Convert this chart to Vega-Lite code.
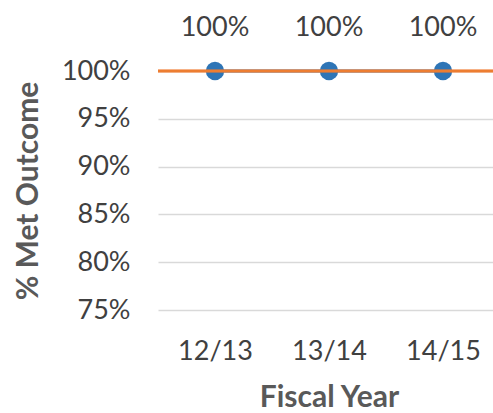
{
  "$schema": "https://vega.github.io/schema/vega-lite/v6.json",
  "autosize": "none",
  "width": 342,
  "height": 239,
  "padding": {"left": 158, "top": 71, "right": 0, "bottom": 103},
  "background": "white",
  "config": {
    "view": {"stroke": null},
    "font": "Lato"
  },
  "data": {
    "values": [
      {"year": "12/13", "met": 1.0},
      {"year": "13/14", "met": 1.0},
      {"year": "14/15", "met": 1.0}
    ]
  },
  "layer": [
    {
      "mark": {"type": "line", "color": "#2E75B6", "strokeWidth": 3},
      "encoding": {
        "x": {
          "field": "year", "type": "ordinal", "sort": null,
          "scale": {"paddingInner": 0, "paddingOuter": 0},
          "axis": {
            "title": "Fiscal Year", "labelAngle": 0, "domain": false, "ticks": false,
            "labelFont": "Lato", "labelFontSize": 27, "labelColor": "#404040", "labelPadding": 28,
            "titleFont": "Lato", "titleFontSize": 30, "titleFontWeight": "bold", "titleColor": "#595959", "titlePadding": 18
          }
        },
        "y": {
          "field": "met", "type": "quantitative",
          "scale": {"domain": [0.75, 1.0], "nice": false, "zero": false},
          "axis": {
            "title": "% Met Outcome", "format": ".0%", "values": [0.75, 0.8, 0.85, 0.9, 0.95, 1.0],
            "domain": false, "ticks": false, "gridColor": "#d9d9d9", "gridWidth": 1.5,
            "labelFont": "Lato", "labelFontSize": 27, "labelColor": "#404040", "labelPadding": 28,
            "titleFont": "Lato", "titleFontSize": 30, "titleFontWeight": "bold", "titleColor": "#595959", "titlePadding": 18
          }
        }
      }
    },
    {
      "mark": {"type": "point", "filled": true, "opacity": 1, "color": "#2E75B6", "size": 340},
      "encoding": {
        "x": {"field": "year", "type": "ordinal", "sort": null},
        "y": {"field": "met", "type": "quantitative"}
      }
    },
    {
      "mark": {"type": "rule", "color": "#ED7D31", "strokeWidth": 2.5},
      "encoding": {"y": {"datum": 1.0, "type": "quantitative"}}
    },
    {
      "mark": {"type": "text", "font": "Lato", "fontSize": 27, "color": "#404040", "dy": -43, "baseline": "middle"},
      "encoding": {
        "x": {"field": "year", "type": "ordinal", "sort": null},
        "y": {"field": "met", "type": "quantitative"},
        "text": {"field": "met", "type": "quantitative", "format": ".0%"}
      }
    }
  ]
}
